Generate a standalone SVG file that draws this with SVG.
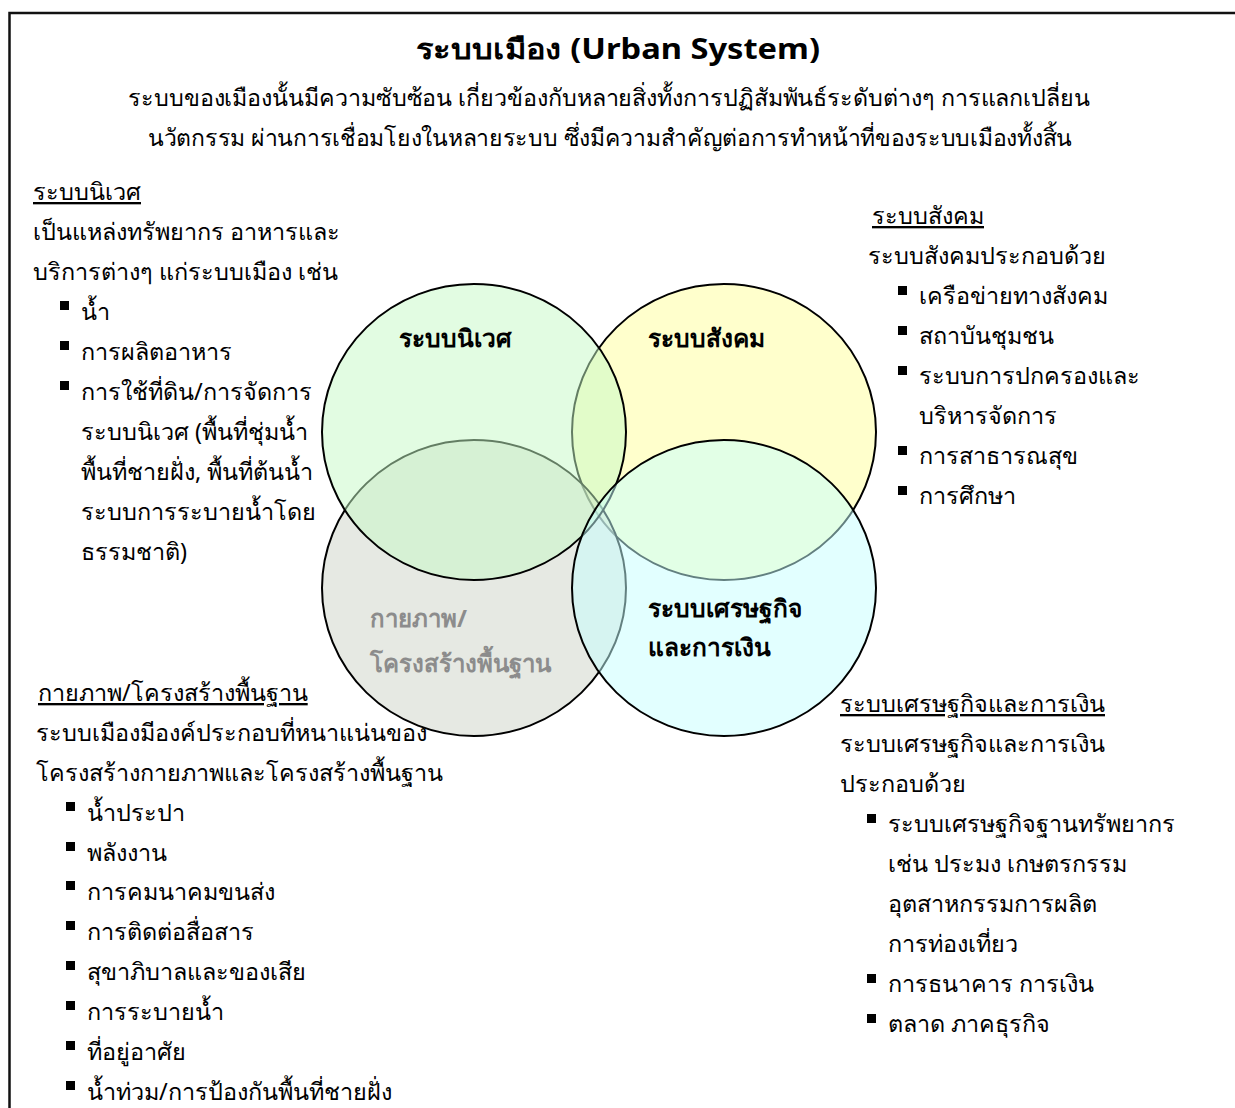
<svg xmlns="http://www.w3.org/2000/svg" width="1235" height="1108" viewBox="0 0 1235 1108">
<style>
text{font-family:"Noto Sans","DejaVu Sans","Liberation Sans",sans-serif;fill:#000;font-size:23.4px}
.t{font-weight:bold;font-size:28px}
.h{text-decoration:underline}
.b{font-weight:bold;font-size:24.5px}
.g{fill:#8c8c8c;font-weight:bold;font-size:24px}
.c{stroke:#000;stroke-width:2;fill-opacity:0.5}
</style>
<defs><rect id="sq" width="9" height="9" fill="#000"/></defs>
<rect width="1235" height="1108" fill="#fff"/>
<path d="M9.5 1108 V13 H1235" fill="none" stroke="#111" stroke-width="2.5"/>
<g id="title">
<text class="t" x="618" y="59" text-anchor="middle" textLength="404" lengthAdjust="spacingAndGlyphs">ระบบเมือง (Urban System)</text>
<text x="609" y="106" text-anchor="middle" textLength="962" lengthAdjust="spacingAndGlyphs">ระบบของเมืองนั้นมีความซับซ้อน เกี่ยวข้องกับหลายสิ่งทั้งการปฏิสัมพันธ์ระดับต่างๆ การแลกเปลี่ยน</text>
<text x="610" y="146" text-anchor="middle" textLength="924" lengthAdjust="spacingAndGlyphs">นวัตกรรม ผ่านการเชื่อมโยงในหลายระบบ ซึ่งมีความสำคัญต่อการทำหน้าที่ของระบบเมืองทั้งสิ้น</text>
</g>
<g id="venn">
<ellipse id="c-social" class="c" cx="724" cy="432" rx="152" ry="148" fill="#ffff99"/>
<ellipse id="c-physical" class="c" cx="474" cy="588" rx="152" ry="148" fill="#cdd3c7"/>
<ellipse id="c-eco" class="c" cx="474" cy="432" rx="152" ry="148" fill="#c5f9c5"/>
<ellipse id="c-econ" class="c" cx="724" cy="588" rx="152" ry="148" fill="#c5ffff"/>
<text class="b" x="399" y="347">ระบบนิเวศ</text>
<text class="b" x="648" y="347">ระบบสังคม</text>
<text class="g" x="370" y="627">กายภาพ/</text>
<text class="g" x="370" y="672">โครงสร้างพื้นฐาน</text>
<text class="b" x="648" y="617">ระบบเศรษฐกิจ</text>
<text class="b" x="648" y="656">และการเงิน</text>
</g>
<g id="eco-text">
<text class="h" x="33" y="200">ระบบนิเวศ</text>
<text x="33" y="240">เป็นแหล่งทรัพยากร อาหารและ</text>
<text x="33" y="280">บริการต่างๆ แก่ระบบเมือง  เช่น</text>
<use href="#sq" x="60" y="301"/><text x="81" y="320">น้ำ</text>
<use href="#sq" x="60" y="341"/><text x="81" y="360">การผลิตอาหาร</text>
<use href="#sq" x="60" y="381"/><text x="81" y="400">การใช้ที่ดิน/การจัดการ</text>
<text x="81" y="440">ระบบนิเวศ (พื้นที่ชุ่มน้ำ</text>
<text x="81" y="480">พื้นที่ชายฝั่ง, พื้นที่ต้นน้ำ</text>
<text x="81" y="520">ระบบการระบายน้ำโดย</text>
<text x="81" y="560">ธรรมชาติ)</text>
</g>
<g id="social-text">
<text class="h" x="872" y="224">ระบบสังคม</text>
<text x="868" y="264">ระบบสังคมประกอบด้วย</text>
<use href="#sq" x="898" y="286"/><text x="919" y="304">เครือข่ายทางสังคม</text>
<use href="#sq" x="898" y="326"/><text x="919" y="344">สถาบันชุมชน</text>
<use href="#sq" x="898" y="366"/><text x="919" y="384">ระบบการปกครองและ</text>
<text x="919" y="424">บริหารจัดการ</text>
<use href="#sq" x="898" y="446"/><text x="919" y="464">การสาธารณสุข</text>
<use href="#sq" x="898" y="486"/><text x="919" y="504">การศึกษา</text>
</g>
<g id="physical-text">
<text class="h" x="38" y="701">กายภาพ/โครงสร้างพื้นฐาน</text>
<text x="36" y="741">ระบบเมืองมีองค์ประกอบที่หนาแน่นของ</text>
<text x="36" y="781">โครงสร้างกายภาพและโครงสร้างพื้นฐาน</text>
<use href="#sq" x="66" y="802"/><text x="87" y="821">น้ำประปา</text>
<use href="#sq" x="66" y="842"/><text x="87" y="861">พลังงาน</text>
<use href="#sq" x="66" y="881"/><text x="87" y="900">การคมนาคมขนส่ง</text>
<use href="#sq" x="66" y="921"/><text x="87" y="940">การติดต่อสื่อสาร</text>
<use href="#sq" x="66" y="961"/><text x="87" y="980">สุขาภิบาลและของเสีย</text>
<use href="#sq" x="66" y="1001"/><text x="87" y="1020">การระบายน้ำ</text>
<use href="#sq" x="66" y="1041"/><text x="87" y="1060">ที่อยู่อาศัย</text>
<use href="#sq" x="66" y="1081"/><text x="87" y="1100">น้ำท่วม/การป้องกันพื้นที่ชายฝั่ง</text>
</g>
<g id="econ-text">
<text class="h" x="840" y="712">ระบบเศรษฐกิจและการเงิน</text>
<text x="840" y="752">ระบบเศรษฐกิจและการเงิน</text>
<text x="840" y="792">ประกอบด้วย</text>
<use href="#sq" x="867" y="814"/><text x="888" y="832">ระบบเศรษฐกิจฐานทรัพยากร</text>
<text x="888" y="872">เช่น ประมง เกษตรกรรม</text>
<text x="888" y="912">อุตสาหกรรมการผลิต</text>
<text x="888" y="952">การท่องเที่ยว</text>
<use href="#sq" x="867" y="974"/><text x="888" y="992">การธนาคาร การเงิน</text>
<use href="#sq" x="867" y="1014"/><text x="888" y="1032">ตลาด ภาคธุรกิจ</text>
</g>
</svg>
